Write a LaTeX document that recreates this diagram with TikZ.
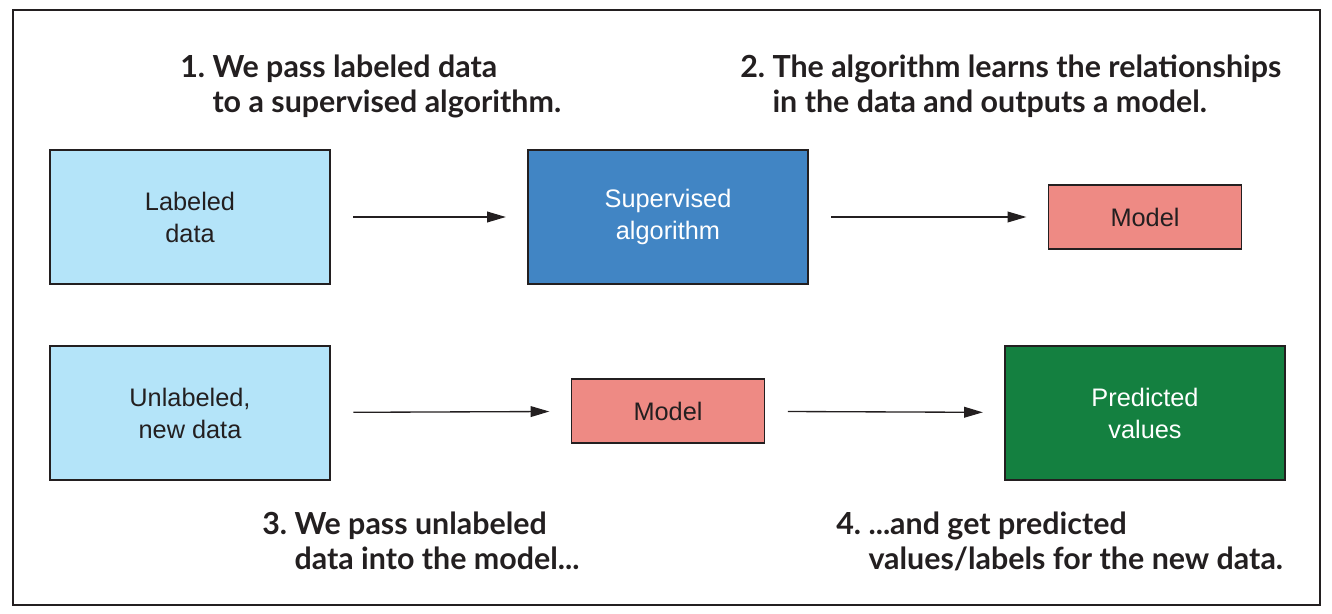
\documentclass[tikz,border=0pt]{standalone}
\usepackage{fontspec}
\setmainfont{Liberation Sans}
\newfontfamily\capfont{Lato}
\usetikzlibrary{arrows.meta}

\definecolor{inkline}{RGB}{35,31,32}
\definecolor{datacyan}{RGB}{180,228,249}
\definecolor{algoblue}{RGB}{65,133,196}
\definecolor{modelpink}{RGB}{238,138,132}
\definecolor{predgreen}{RGB}{20,128,64}

\begin{document}
\begin{tikzpicture}[x=0.75pt, y=-0.75pt,
    box/.style={draw=inkline, line width=1.2pt, align=center, inner sep=0pt,
        text=inkline, font=\fontsize{19}{24}\selectfont},
    bigbox/.style={box, minimum width=210pt, minimum height=100.5pt},
    smallbox/.style={box, fill=modelpink, minimum width=144.75pt, minimum height=48pt},
    flow/.style={draw=inkline, line width=1pt, -{Triangle[length=14pt,width=8pt]},
        shorten <=17pt, shorten >=16pt},
    caption/.style={anchor=base west, inner sep=0pt, text=inkline,
        font=\capfont\bfseries\fontsize{22.8}{26.25}\selectfont}]
    \useasboundingbox (0,0) rectangle (1332,614);

    \coordinate (LD) at (190,217);
    \coordinate (SA) at (668,217);
    \coordinate (M1) at (1145,217);
    \coordinate (UD) at (190,413);
    \coordinate (M2) at (668,411);
    \coordinate (PV) at (1145,413);

    \node[bigbox, fill=datacyan] (labeled) at (LD) {Labeled\\data};
    \node[bigbox, fill=algoblue, text=white] (algo) at (SA) {Supervised\\algorithm};
    \node[smallbox] (model) at (M1) {Model};
    \node[bigbox, fill=datacyan] (unlabeled) at (UD) {Unlabeled,\\new data};
    \node[smallbox] (newmodel) at (M2) {Model};
    \node[bigbox, fill=predgreen, text=white] (predicted) at (PV) {Predicted\\values};

    \draw[flow] (labeled) -- (algo);
    \draw[flow] (algo) -- (model);
    \draw[flow] (unlabeled) -- (newmodel);
    \draw[flow] (newmodel) -- (predicted);

    \node[caption] (step1) at (180,77)
        {\begin{tabular}[t]{@{}l@{\ }l@{}}1. & We pass labeled data\\ & to a supervised algorithm.\end{tabular}};
    \node[caption] (step2) at (740,77)
        {\begin{tabular}[t]{@{}l@{\ }l@{}}2. & The algorithm learns the relationships\\ & in the data and outputs a model.\end{tabular}};
    \node[caption] (step3) at (262,534)
        {\begin{tabular}[t]{@{}l@{\ }l@{}}3. & We pass unlabeled\\ & data into the model...\end{tabular}};
    \node[caption] (step4) at (836,534)
        {\begin{tabular}[t]{@{}l@{\ }l@{}}4. & ...and get predicted\\ & values/labels for the new data.\end{tabular}};

    \draw[draw=inkline, line width=1.2pt] (13,10) rectangle (1320,605);
\end{tikzpicture}
\end{document}
